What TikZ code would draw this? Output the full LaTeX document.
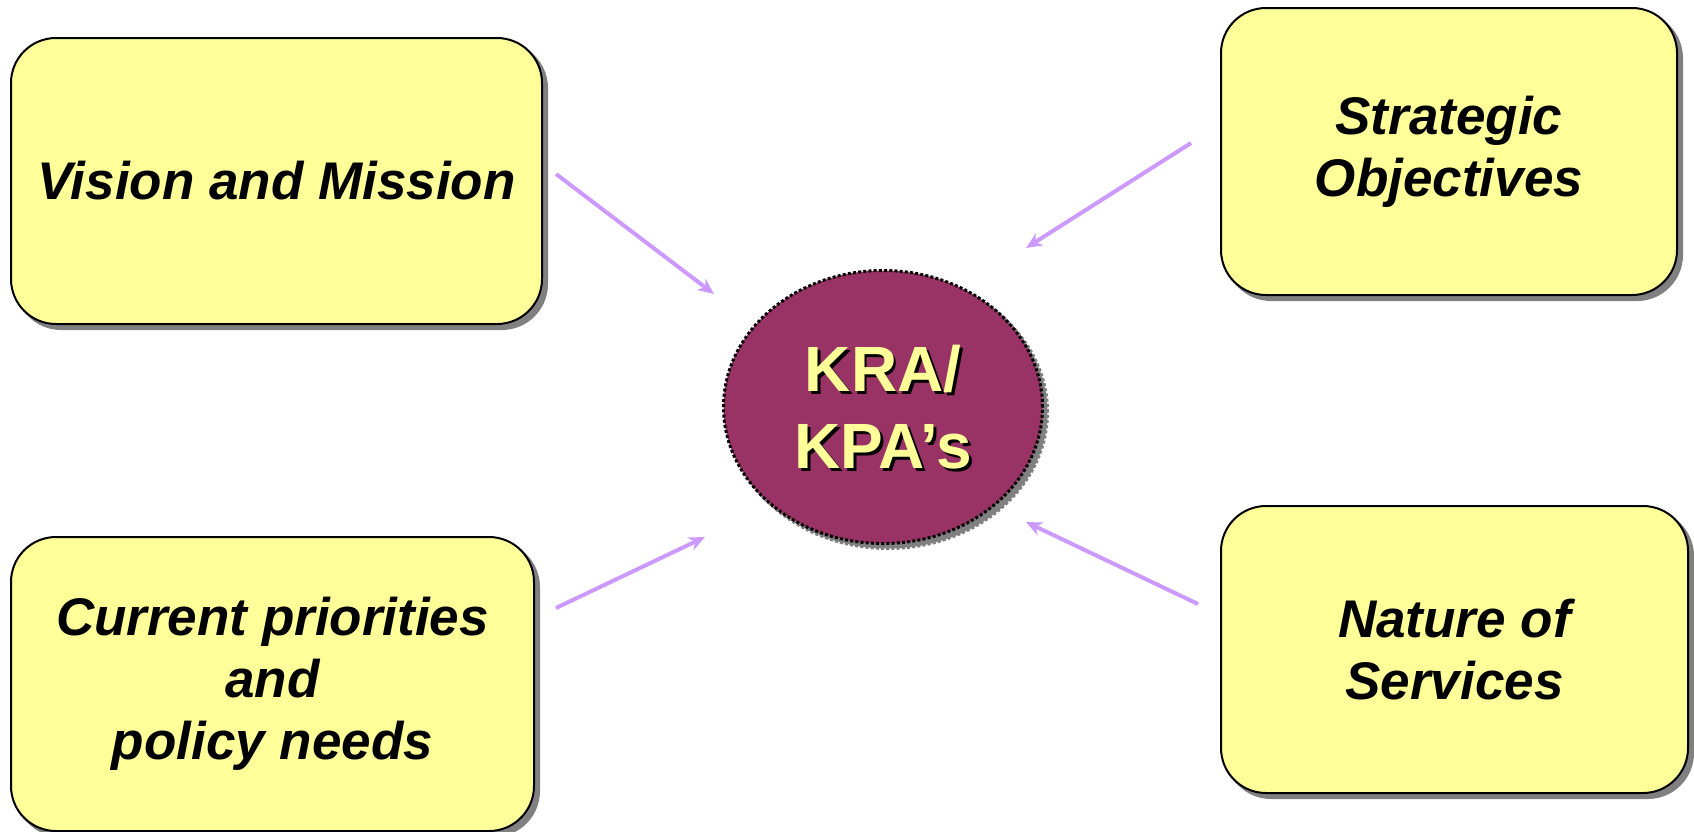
\documentclass[tikz,border=0pt]{standalone}
\usepackage{fontspec}
\setmainfont{Liberation Sans}
\usetikzlibrary{shapes.geometric,arrows.meta,shadows}
\definecolor{boxyellow}{RGB}{255,255,153}
\definecolor{hubplum}{RGB}{153,51,102}
\definecolor{feedlilac}{RGB}{204,153,255}
\definecolor{shadegray}{RGB}{128,128,128}
\tikzset{
  topicbox/.style={draw=black, line width=2pt, fill=boxyellow,
    rounded corners=45pt, align=center, inner sep=0pt,
    font=\fontsize{53}{62}\selectfont\bfseries\itshape,
    copy shadow={shadow xshift=5pt, shadow yshift=-5pt, fill=shadegray, draw=shadegray}},
  feed/.style={draw=feedlilac, line width=4pt,
    -{Stealth[length=16pt,width=14pt,inset=5pt]}},
  hubrim/.style={ellipse, line width=3pt, dash pattern=on 3pt off 2.2pt,
    minimum width=319pt, minimum height=273pt, inner sep=0pt},
  hubtext/.style={align=center, inner sep=0pt,
    font=\fontsize{64}{77}\selectfont\bfseries}
}
\begin{document}
\begin{tikzpicture}[x=1pt,y=-1pt]
  \useasboundingbox (0,0) rectangle (1694,831);

  % source boxes
  \node[topicbox, minimum width=531pt, minimum height=286pt] (vision) at (276.5,181)
    {Vision and Mission};
  \node[topicbox, minimum width=456pt, minimum height=287pt] (strategic) at (1449,151.5)
    {Strategic\\Objectives};
  \node[topicbox, minimum width=523pt, minimum height=294pt] (current) at (272.5,684)
    {Current priorities\\and\\policy needs};
  \node[topicbox, minimum width=467pt, minimum height=287pt] (nature) at (1454.5,649.5)
    {Nature of\\Services};

  % central hub with its dotted rim and drop shadow
  \node[hubrim, fill=shadegray, draw=shadegray] (hubshade) at (888,412) {};
  \node[hubrim, fill=hubplum, draw=black] (hub) at (883,407) {};
  \node[hubtext, text=black] (hublabelshade) at ([xshift=3pt,yshift=-3pt]hub.center) {KRA/\\KPA’s};
  \node[hubtext, text=boxyellow] (hublabel) at (hub.center) {KRA/\\KPA’s};

  % free ends of the feed arrows
  \coordinate (visionout) at (556,174);
  \coordinate (visionin) at (714,294);
  \coordinate (strategicout) at (1191,143);
  \coordinate (strategicin) at (1026,248);
  \coordinate (currentout) at (556,608);
  \coordinate (currentin) at (705,537);
  \coordinate (natureout) at (1198,604);
  \coordinate (naturein) at (1026,522);

  \draw[feed] (visionout) -- (visionin);
  \draw[feed] (strategicout) -- (strategicin);
  \draw[feed] (currentout) -- (currentin);
  \draw[feed] (natureout) -- (naturein);
\end{tikzpicture}
\end{document}
